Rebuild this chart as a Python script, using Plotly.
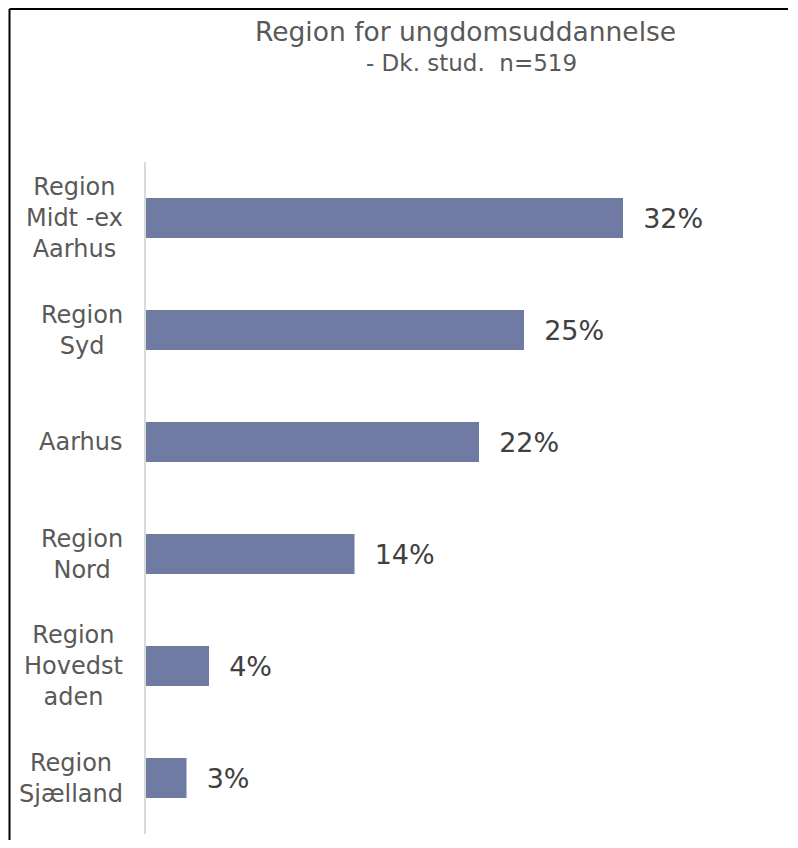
import plotly.graph_objects as go

# categories, top to bottom
regions = ["Region Midt -ex Aarhus", "Region Syd", "Aarhus", "Region Nord",
           "Region Hovedstaden", "Region Sjælland"]
# axis labels as wrapped in the original
region_labels = ["Region<br>Midt -ex<br>Aarhus", "Region<br>Syd", "Aarhus",
                 "Region<br>Nord", "Region<br>Hovedst<br>aden", "Region<br>Sjælland"]
# share of students (n=519)
shares = [0.318, 0.252, 0.222, 0.139, 0.042, 0.027]

title = "Region for ungdomsuddannelse"
subtitle = "- Dk. stud.\u00a0\u00a0n=519"

bar_color = "#6f7ba2"
font = "DejaVu Sans"

fig = go.Figure()

fig.add_trace(go.Bar(
    x=shares,
    y=regions,
    orientation="h",
    marker=dict(color=bar_color, line=dict(width=0)),
    text=shares,
    texttemplate="\u00a0\u00a0%{x:.0%}",
    textposition="outside",
    textfont=dict(family=font, size=27, color="#404040"),
    cliponaxis=False,
    hoverinfo="skip",
))

# category labels: block right-aligned near the axis, lines centred
for r, lab in zip(regions, region_labels):
    fig.add_annotation(
        x=-0.0355, xref="paper", y=r, yref="y",
        text=lab, showarrow=False, xanchor="right", yanchor="middle",
        align="center", font=dict(family=font, size=24, color="#595959"),
    )

fig.add_annotation(x=0.532, y=1.194, xref="paper", yref="paper", text=title,
                   showarrow=False, xanchor="center", yanchor="middle",
                   font=dict(family=font, size=26.5, color="#595959"))
fig.add_annotation(x=0.542, y=1.147, xref="paper", yref="paper", text=subtitle,
                   showarrow=False, xanchor="center", yanchor="middle",
                   font=dict(family=font, size=23, color="#595959"))

# outer chart border: only the top and left edges fall inside the picture
fig.add_shape(type="line", xref="paper", yref="paper",
              x0=-0.2275, y0=1.2277, x1=1.07, y1=1.2277,
              line=dict(color="black", width=2))
fig.add_shape(type="line", xref="paper", yref="paper",
              x0=-0.2275, y0=1.2277, x1=-0.2275, y1=-0.1,
              line=dict(color="black", width=2))

# page body has an 8px margin, so the figure is shrunk to fit the window
fig.update_layout(
    width=782, height=832,
    margin=dict(l=138, r=44, t=154, b=6),
    paper_bgcolor="white", plot_bgcolor="white",
    showlegend=False,
    bargap=0.643,
    xaxis=dict(range=[0, 0.40], visible=False),
    yaxis=dict(autorange="reversed", showticklabels=False, ticks="",
               showline=True, linecolor="#d9d9d9", linewidth=2,
               showgrid=False, zeroline=False),
)

fig.write_html("out.html")
